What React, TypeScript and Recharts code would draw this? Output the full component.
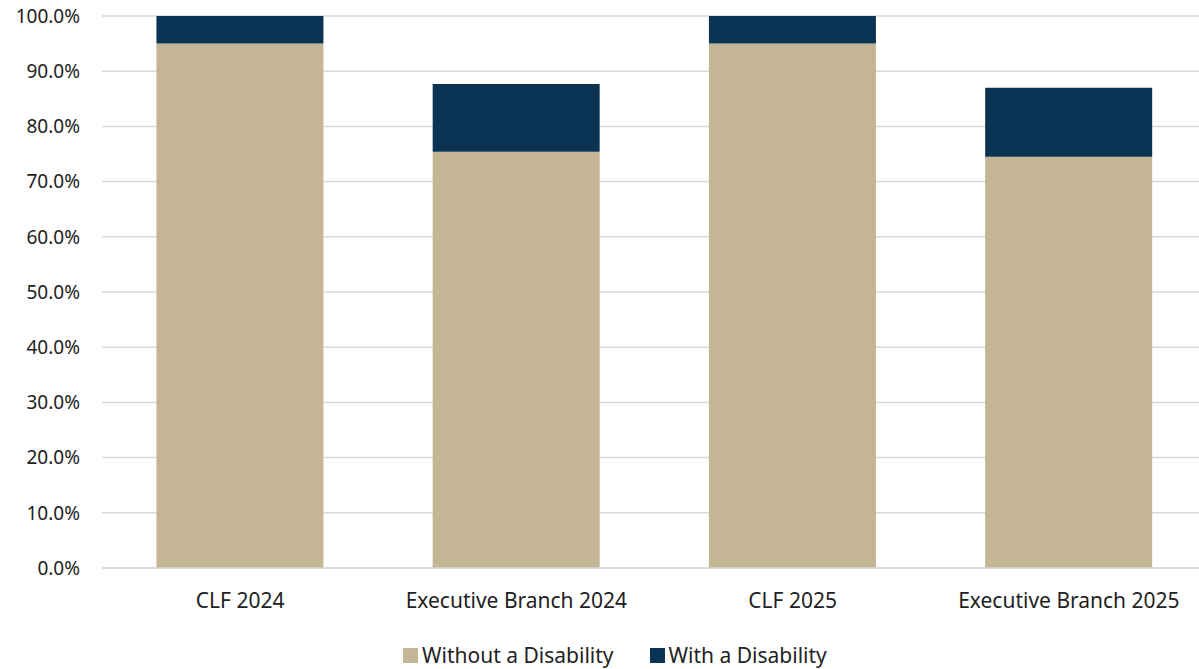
import React from 'react';
import { BarChart, Bar, XAxis, YAxis, CartesianGrid, Legend } from 'recharts';

const categories = ['CLF 2024', 'Executive Branch 2024', 'CLF 2025', 'Executive Branch 2025'];
const withoutDisability = [95.0, 75.4, 95.0, 74.5];
const withDisability = [5.0, 12.3, 5.0, 12.5];
const yTicks = [0, 10, 20, 30, 40, 50, 60, 70, 80, 90, 100];
const seriesNames = ['Without a Disability', 'With a Disability'];

const data = categories.map((name, i) => ({
  name,
  without: withoutDisability[i],
  with: withDisability[i],
}));

const colors = {
  without: '#C4B595',
  with: '#0B3454',
  grid: '#D9D9D9',
  text: '#222222',
};

const font = '"Source Sans Pro", "Noto Sans", sans-serif';

const CustomLegend = () => {
  const swatches = [colors.without, colors.with];
  return (
    <div style={{ display: 'flex', alignItems: 'center', marginLeft: 403, fontSize: 21, color: colors.text, fontFamily: font }}>
      {seriesNames.map((name, i) => (
        <div key={name} style={{ display: 'flex', alignItems: 'center', marginRight: 36 }}>
          <span style={{ display: 'inline-block', width: 15, height: 15, background: swatches[i], marginRight: 4 }} />
          <span>{name}</span>
        </div>
      ))}
    </div>
  );
};

export default function App() {
  return (
    <div
      style={{
        position: 'absolute',
        left: 0,
        top: 0,
        width: 1199,
        height: 669,
        overflow: 'hidden',
        background: '#fff',
        fontFamily: font,
      }}
    >
      <BarChart
        width={1210}
        height={669}
        data={data}
        margin={{ top: 16, right: 3, left: 0, bottom: 4 }}
        barCategoryGap="19.7%"
      >
        <CartesianGrid vertical={false} stroke={colors.grid} strokeWidth={1.5} />
        <XAxis
          dataKey="name"
          axisLine={{ stroke: colors.grid, strokeWidth: 1.5 }}
          tickLine={false}
          tick={{ fill: colors.text, fontSize: 21, fontFamily: font }}
          tickMargin={19}
          height={69}
        />
        <YAxis
          domain={[0, 100]}
          ticks={yTicks}
          width={102}
          axisLine={false}
          tickLine={false}
          tickMargin={16}
          tickFormatter={(v: number) => `${v.toFixed(1)}%`}
          tick={{ fill: colors.text, fontSize: 19, fontFamily: font }}
        />
        <Legend
          verticalAlign="bottom"
          content={<CustomLegend />}
          wrapperStyle={{ left: 0, width: 1199, bottom: 0 }}
        />
        <Bar
          dataKey="without"
          name={seriesNames[0]}
          stackId="a"
          fill={colors.without}
          isAnimationActive={false}
        />
        <Bar
          dataKey="with"
          name={seriesNames[1]}
          stackId="a"
          fill={colors.with}
          isAnimationActive={false}
        />
      </BarChart>
    </div>
  );
}
